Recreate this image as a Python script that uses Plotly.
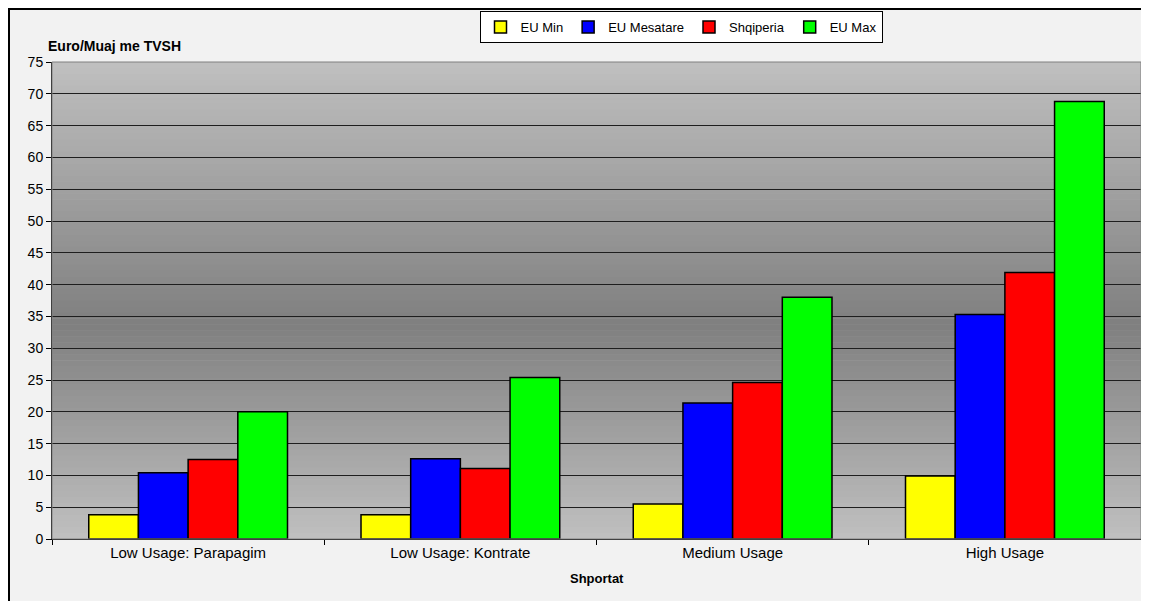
import plotly.graph_objects as go

categories = ["Low Usage: Parapagim", "Low Usage: Kontrate", "Medium Usage", "High Usage"]
eu_min = [3.8, 3.8, 5.5, 9.9]
eu_mesatare = [10.4, 12.6, 21.4, 35.3]
shqiperia = [12.5, 11.1, 24.6, 41.9]
eu_max = [20.0, 25.4, 38.0, 68.8]

series = [
    ("EU Min", eu_min, "#ffff00"),
    ("EU Mesatare", eu_mesatare, "#0000ff"),
    ("Shqiperia", shqiperia, "#ff0000"),
    ("EU Max", eu_max, "#00ff00"),
]

FONT = "Liberation Sans, Arial, sans-serif"

# the page body adds an 8px offset; layout is expressed in window pixels
OFF = 8
PL, PR, PT, PB = 52, 1141, 62, 539   # plot area in window pixels
PW, PH = PR - PL, PB - PT

def px(wx):
    return (wx - PL) / PW

def py(wy):
    return (PB - wy) / PH

fig = go.Figure()
for name, vals, col in series:
    fig.add_trace(go.Bar(
        x=categories, y=vals, name=name,
        marker=dict(color=col, line=dict(color="#000000", width=1.5)),
    ))

# vertical gradient background for the plot area (light -> dark -> light)
shapes = []
n = 80
def gray_at(f):
    dark_pos = 0.55
    light, dark = 192, 127
    if f <= dark_pos:
        v = light - (light - dark) * (f / dark_pos)
    else:
        v = dark + (light - dark) * ((f - dark_pos) / (1 - dark_pos))
    v = int(round(v))
    return f"rgb({v},{v},{v})"

for i in range(n):
    f_mid = (i + 0.5) / n
    shapes.append(dict(
        type="rect", xref="x domain", yref="y domain",
        x0=0, x1=1, y0=1 - (i + 1) / n - 0.001, y1=1 - i / n,
        fillcolor=gray_at(f_mid), line=dict(width=0), layer="below",
    ))

# plot area frame (gray)
shapes.append(dict(type="rect", xref="x domain", yref="y domain", x0=0, x1=1, y0=0, y1=1,
                   line=dict(color="#808080", width=1), fillcolor="rgba(0,0,0,0)", layer="above"))
# outer chart border (only top/left visible in window)
shapes.append(dict(type="rect", xref="paper", yref="paper", x0=px(9), x1=px(1200),
                   y0=py(650), y1=py(9),
                   line=dict(color="#000000", width=2), fillcolor="rgba(0,0,0,0)", layer="above"))

W, H = 1149 - OFF, 601 - OFF
fig.update_layout(
    width=W, height=H,
    margin=dict(l=PL - OFF, r=W - (PR - OFF), t=PT - OFF, b=H - (PB - OFF), autoexpand=False),
    paper_bgcolor="#f2f2f2",
    plot_bgcolor="#bebebe",
    barmode="group",
    bargap=0.27,
    bargroupgap=0,
    font=dict(family=FONT, size=13, color="#000000"),
    shapes=shapes,
    showlegend=True,
    legend=dict(
        orientation="h", x=px(681), xanchor="center", y=py(11), yanchor="top",
        bgcolor="#ffffff", bordercolor="#000000", borderwidth=1,
        font=dict(family=FONT, size=13, color="#000000"),
        itemwidth=30, tracegroupgap=0,
    ),
    annotations=[
        dict(text="<b>Euro/Muaj me TVSH</b>", xref="paper", yref="paper",
             x=px(46), y=py(56), xanchor="left", yanchor="bottom",
             showarrow=False, font=dict(family=FONT, size=14, color="#000000")),
        dict(text="<b>Shportat</b>", xref="paper", yref="paper",
             x=0.5, y=py(588), xanchor="center", yanchor="bottom",
             showarrow=False, font=dict(family=FONT, size=13, color="#000000")),
    ],
)

fig.update_xaxes(
    type="category", showline=True, linecolor="#000000", linewidth=1,
    ticks="outside", tickson="boundaries", ticklen=5, tickcolor="#000000",
    showgrid=False, tickfont=dict(family=FONT, size=15, color="#000000"),
)
fig.update_yaxes(
    range=[0, 75], dtick=5, tick0=0,
    showline=True, linecolor="#000000", linewidth=1,
    ticks="outside", ticklen=5, tickcolor="#000000",
    showgrid=True, gridcolor="#1e1e1e", gridwidth=1,
    zeroline=False,
    tickfont=dict(family=FONT, size=14, color="#000000"),
)

fig.write_html("out.html")
